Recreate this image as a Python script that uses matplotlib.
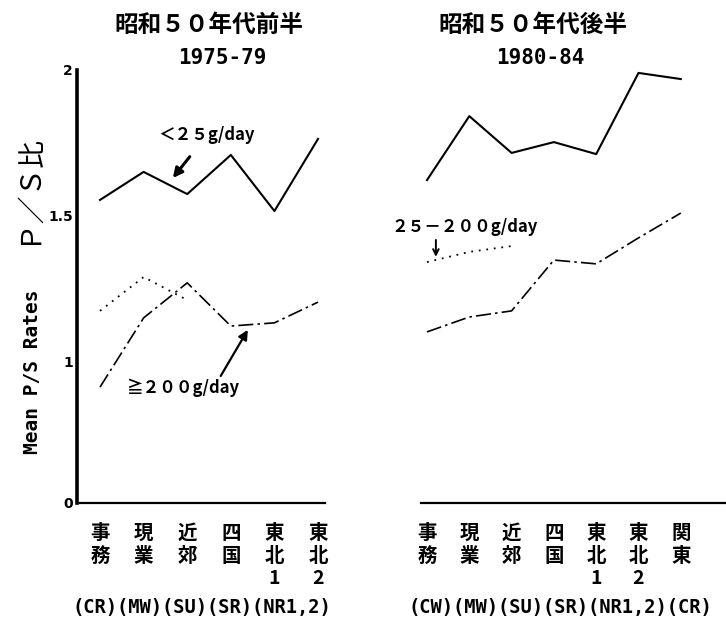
import numpy as np
import matplotlib
matplotlib.use("Agg")
import matplotlib.pyplot as plt

# ---------------- data ----------------
left_cats = ["事\n務", "現\n業", "近\n郊", "四\n国", "東\n北\n1", "東\n北\n2"]
right_cats = ["事\n務", "現\n業", "近\n郊", "四\n国", "東\n北\n1", "東\n北\n2", "関\n東"]

left_lt25 = [1.555, 1.651, 1.575, 1.709, 1.517, 1.764]
left_ge200 = [0.914, 1.151, 1.271, 1.123, 1.134, 1.205]
left_mid = [1.175, 1.291, 1.212]

right_lt25 = [1.623, 1.842, 1.716, 1.753, 1.712, 1.990, 1.969]
right_ge200 = [1.103, 1.154, 1.175, 1.349, 1.336, 1.425, 1.510]
right_mid = [1.342, 1.377, 1.397]

yticks = [0, 1, 1.5, 2]
ytick_labels = ["0", "1", "1.5", "2"]

left_title = "昭和５０年代前半"
left_years = "1975-79"
right_title = "昭和５０年代後半"
right_years = "1980-84"
left_codes = "(CR)(MW)(SU)(SR)(NR1,2)"
right_codes = "(CW)(MW)(SU)(SR)(NR1,2)(CR)"

# ---------------- style ----------------
CJK = ["Noto Sans CJK JP", "DejaVu Sans"]
MONO = ["DejaVu Sans Mono", "Noto Sans CJK JP"]
plt.rcParams["font.family"] = CJK

W, H = 726, 635
fig = plt.figure(figsize=(W / 100, H / 100), dpi=100)

# broken y axis: 0..0.9 compressed
B, K = 0.9, 0.4256
def fwd(v):
    v = np.asarray(v, dtype=float)
    return np.where(v >= B, v, B - (B - v) * K)
def inv(u):
    u = np.asarray(u, dtype=float)
    return np.where(u >= B, u, B - (B - u) / K)

def px_rect(x0, x1, ytop, ybot):
    return [x0 / W, 1 - ybot / H, (x1 - x0) / W, (ybot - ytop) / H]

axL = fig.add_axes(px_rect(77, 325, 70, 503))
axR = fig.add_axes(px_rect(421, 725, 70, 503))

dashdot = (0, (9, 2.5, 1.5, 2.5))
dotted = (0, (1, 3.2))

for ax in (axL, axR):
    ax.set_yscale("function", functions=(fwd, inv))
    ax.set_ylim(0, 2)
    for s in ("top", "right"):
        ax.spines[s].set_visible(False)
    ax.spines["bottom"].set_linewidth(1.6)
    ax.tick_params(axis="x", length=0, pad=15)
    ax.minorticks_off()

axL.set_xlim(-0.528, 5.16)
axR.set_xlim(-0.142, 7.045)

xl = np.arange(len(left_cats))
xr = np.arange(len(right_cats))

axL.plot(xl, left_lt25, color="black", lw=1.5)
axL.plot(xl, left_ge200, color="black", lw=1.2, linestyle=dashdot)
axL.plot(xl[:len(left_mid)], left_mid, color="black", lw=1.3, linestyle=dotted)

axR.plot(xr, right_lt25, color="black", lw=1.5)
axR.plot(xr, right_ge200, color="black", lw=1.2, linestyle=dashdot)
axR.plot(xr[:len(right_mid)], right_mid, color="black", lw=1.3, linestyle=dotted)

# y axis
axL.spines["left"].set_linewidth(2.6)
axL.set_yticks(yticks)
axL.set_yticklabels(ytick_labels, fontsize=10, fontweight="bold", family=["DejaVu Sans"])
axL.tick_params(axis="y", length=0, pad=3)
axR.spines["left"].set_visible(False)
axR.set_yticks([])

# x labels
axL.set_xticks(xl)
axL.set_xticklabels(left_cats, fontsize=14, fontweight="bold", linespacing=1.25, va="top")
axR.set_xticks(xr)
axR.set_xticklabels(right_cats, fontsize=14, fontweight="bold", linespacing=1.25, va="top")

# annotations
axL.annotate("＜２５g/day", xy=(1.67, 1.630), xytext=(2.45, 1.777),
             ha="center", va="center", fontsize=12, fontweight="bold",
             arrowprops=dict(arrowstyle="-|>", lw=2.2, color="black",
                             mutation_scale=14, shrinkA=9, shrinkB=0))
axL.annotate("≧２００g/day", xy=(3.39, 1.110), xytext=(1.90, 0.911),
             ha="center", va="center", fontsize=12, fontweight="bold",
             arrowprops=dict(arrowstyle="-|>", lw=1.6, color="black",
                             mutation_scale=14, shrinkA=0, shrinkB=0,
                             relpos=(0.82, 1.0)))
axR.text(0.90, 1.462, "２５－２００g/day", ha="center", va="center",
         fontsize=12, fontweight="bold")
axR.annotate("", xy=(0.21, 1.360), xytext=(0.21, 1.418),
             arrowprops=dict(arrowstyle="->", lw=1.4, color="black",
                             mutation_scale=10, shrinkA=0, shrinkB=0))

# titles and labels
def ftext(x, y, s, **kw):
    fig.text(x / W, 1 - y / H, s, ha="center", va="center", **kw)

ftext(209, 25, left_title, fontsize=17, fontweight="bold")
ftext(222, 58, left_years, fontsize=15, fontweight="bold", family=MONO)
ftext(533, 25, right_title, fontsize=17, fontweight="bold")
ftext(540, 58, right_years, fontsize=15, fontweight="bold", family=MONO)

ftext(27, 188, "Ｐ／Ｓ比", fontsize=20, rotation=90)
ftext(33, 372, "Mean P/S Rates", fontsize=14, fontweight="bold", rotation=90, family=MONO)

ftext(202, 608, left_codes, fontsize=13.5, fontweight="bold", family=MONO)
ftext(560, 608, right_codes, fontsize=13.5, fontweight="bold", family=MONO)

fig.savefig("out.png", dpi=100, facecolor="white")
